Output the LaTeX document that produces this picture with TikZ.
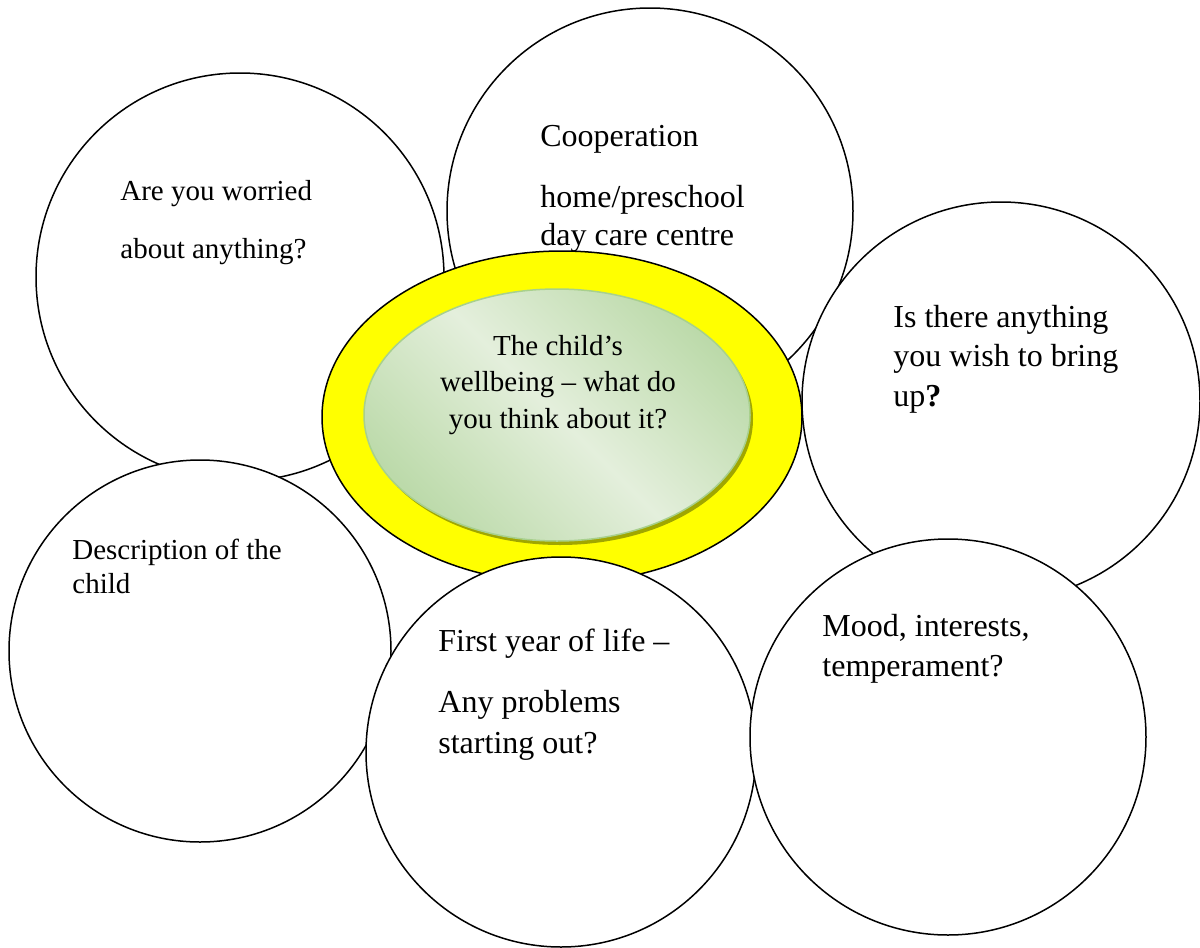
\documentclass[tikz,border=0pt]{standalone}
\usepackage{fontspec}
\setmainfont{Liberation Serif}
\usetikzlibrary{shapes.geometric,shadows}
\definecolor{greenlight}{RGB}{228,239,220}
\definecolor{greendark}{RGB}{188,218,170}
\definecolor{greenrim}{RGB}{168,208,141}
\definecolor{olivedrop}{RGB}{160,166,0}
\definecolor{sunyellow}{RGB}{255,255,0}

\begin{document}
\begin{tikzpicture}[x=0.5pt,y=-0.5pt,
  bubble/.style={circle,draw,fill=white,line width=0.75pt,inner sep=0pt},
  words/.style={inner sep=0pt,anchor=base west,align=left}]
\useasboundingbox (0,0) rectangle (1200,948);
\node[bubble,minimum size=204pt] (worry) at (240,277) {};
\node[words,font=\fontsize{14.5}{29}\selectfont] (worrytext) at (120,258) {Are you worried\\about anything?};
\node[bubble,minimum size=203pt] (coop) at (650,211) {};
\node[words,font=\fontsize{16}{19}\selectfont] (cooptext) at (540,245) {Cooperation\\[11.5pt]home/preschool\\day care centre};
\node[ellipse,draw,fill=sunyellow,line width=0.75pt,inner sep=0pt,minimum width=240pt,minimum height=166pt] (sun) at (562,417) {};
\node[ellipse,draw=greenrim,line width=0.75pt,inner sep=0pt,minimum width=193pt,minimum height=126pt,
  top color=greendark,bottom color=greendark,middle color=greenlight,shading angle=-45,
  drop shadow={fill=olivedrop,opacity=1,shadow xshift=1.5pt,shadow yshift=-2pt}] (core) at (557,415) {};
\node[inner sep=0pt,anchor=base,align=center,font=\fontsize{14.5}{18.25}\selectfont] (coretext) at (558,428) {The child’s\\wellbeing -- what do\\you think about it?};
\node[bubble,minimum size=199pt] (wish) at (1001,401) {};
\node[words,font=\fontsize{16}{19.75}\selectfont] (wishtext) at (893,406) {Is there anything\\you wish to bring\\up{\bfseries ?}};
\node[bubble,minimum size=191pt] (descr) at (200,651) {};
\node[words,font=\fontsize{14.5}{17}\selectfont] (descrtext) at (72,593) {Description of the\\child};
\node[bubble,minimum size=195pt] (first) at (561,752) {};
\node[words,font=\fontsize{16}{20.5}\selectfont] (firsttext) at (438,753) {First year of life --\\[10pt]Any problems\\starting out?};
\node[bubble,minimum size=198pt] (mood) at (948,737) {};
\node[words,font=\fontsize{16}{20}\selectfont] (moodtext) at (822,676) {Mood, interests,\\temperament?};
\end{tikzpicture}
\end{document}
